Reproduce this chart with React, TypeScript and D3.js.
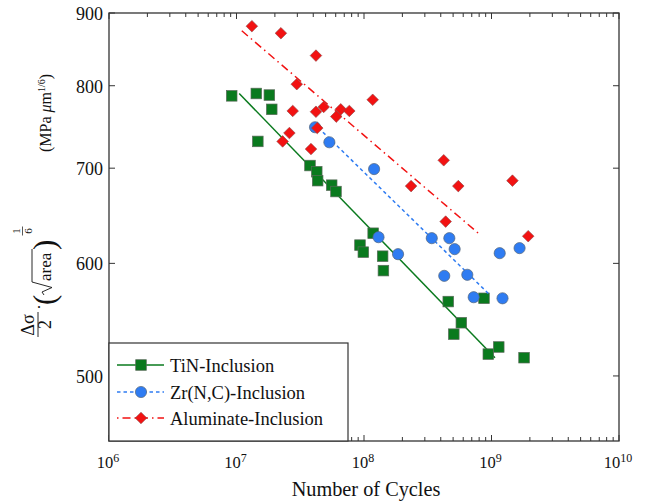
import React from "react";
import * as d3 from "d3";

// ---- data ----
const tinCycles = [9.17e6, 1.43e7, 1.81e7, 1.89e7, 1.47e7, 3.77e7, 4.26e7, 4.33e7, 5.58e7, 6.03e7, 1.18e8, 9.3e7, 9.88e7, 1.4e8, 1.42e8, 4.58e8, 8.73e8, 5.8e8, 5.06e8, 9.44e8, 1.14e9, 1.8e9];
const tinStress = [787, 790, 788, 770, 731, 703, 696, 686, 681, 674, 630, 618, 611, 607, 593, 564, 567, 545, 535, 518, 524, 515];

const zrCycles = [4.13e7, 5.35e7, 1.2e8, 1.3e8, 1.85e8, 3.4e8, 4.67e8, 5.14e8, 4.26e8, 6.46e8, 1.16e9, 1.66e9, 7.25e8, 1.22e9];
const zrStress = [748, 730, 699, 626, 609, 625, 625, 614, 588, 589, 610, 615, 568, 567];

const alCycles = [1.32e7, 2.23e7, 4.2e7, 2.97e7, 1.17e8, 2.76e7, 4.2e7, 4.83e7, 6.57e7, 6.06e7, 7.67e7, 4.3e7, 2.6e7, 2.3e7, 3.84e7, 4.22e8, 2.34e8, 5.49e8, 1.46e9, 4.37e8, 1.94e9];
const alStress = [881, 871, 840, 802, 782, 768, 767, 773, 770, 761, 768, 747, 741, 731, 722, 709, 680, 680, 686, 642, 627];

const tinFitCycles = [1.05e7, 1.065e9];
const tinFitStress = [790, 515];
const zrFitCycles = [4.38e7, 9.73e8];
const zrFitStress = [747.5, 570];
const alFitCycles = [1.1e7, 7.88e8];
const alFitStress = [874.5, 630];

const xMajorTicks = [1e6, 1e7, 1e8, 1e9, 1e10];
const xTickExponents = ["6", "7", "8", "9", "10"];
const yTicks = [500, 600, 700, 800, 900];
const legendLabels = ["TiN-Inclusion", "Zr(N,C)-Inclusion", "Aluminate-Inclusion"];

const FONT = "'Liberation Serif', 'Times New Roman', serif";
const GREEN = "#0a7a1e";
const BLUE = "#2f7cf2";
const RED = "#f21212";
const AXIS = "#333";
const TXT = "#111";

const L = 109, R = 619, T = 13, B = 441;

const x = d3.scaleLog().domain([1e6, 1e10]).range([L, R]);
const y = d3.scaleLog().domain([450, 900]).range([B, T]);

const minorTicks: number[] = [];
for (let e = 6; e < 10; e++) for (let k = 2; k <= 9; k++) minorTicks.push(k * Math.pow(10, e));

const lineGen = d3.line<[number, number]>().x((d) => x(d[0])).y((d) => y(d[1]));
const zip = (a: number[], b: number[]) => a.map((v, i) => [v, b[i]] as [number, number]);

const Square = ({ cx, cy }: { cx: number; cy: number }) => (
  <rect x={cx - 5.3} y={cy - 5.3} width={10.6} height={10.6} fill={GREEN} stroke="#5a6a5a" strokeWidth={0.7} />
);
const Circle = ({ cx, cy }: { cx: number; cy: number }) => (
  <circle cx={cx} cy={cy} r={5.6} fill={BLUE} stroke="#55657a" strokeWidth={0.7} />
);
const Diamond = ({ cx, cy }: { cx: number; cy: number }) => {
  const r = 5.8;
  return <path d={`M${cx},${cy - r}L${cx + r},${cy}L${cx},${cy + r}L${cx - r},${cy}Z`} fill={RED} stroke="#8a4a4a" strokeWidth={0.6} />;
};

export default function App() {
  const tin = zip(tinCycles, tinStress);
  const zr = zip(zrCycles, zrStress);
  const al = zip(alCycles, alStress);
  const legendY = [365, 392, 418];
  return (
    <svg width={646} height={501} style={{ position: "absolute", left: 0, top: 0, background: "#fff" }} fontFamily={FONT}>
      <rect x={0} y={0} width={646} height={501} fill="#fff" />
      {/* ticks */}
      {xMajorTicks.map((t, i) => (
        <g key={"xm" + i}>
          <line x1={x(t)} x2={x(t)} y1={B} y2={B - 6} stroke={AXIS} strokeWidth={1} />
          <line x1={x(t)} x2={x(t)} y1={T} y2={T + 6} stroke={AXIS} strokeWidth={1} />
          <text x={x(t) - 1} y={468} textAnchor="middle" fontSize={16.5} fill={TXT}>
            10<tspan dy={-6} fontSize={12}>{xTickExponents[i]}</tspan>
          </text>
        </g>
      ))}
      {minorTicks.map((t, i) => (
        <g key={"xn" + i}>
          <line x1={x(t)} x2={x(t)} y1={B} y2={B - 4} stroke={AXIS} strokeWidth={1} />
          <line x1={x(t)} x2={x(t)} y1={T} y2={T + 4} stroke={AXIS} strokeWidth={1} />
        </g>
      ))}
      {yTicks.map((t) => (
        <g key={"y" + t}>
          <line x1={L} x2={L + 6} y1={y(t)} y2={y(t)} stroke={AXIS} strokeWidth={1} />
          <line x1={R} x2={R - 6} y1={y(t)} y2={y(t)} stroke={AXIS} strokeWidth={1} />
          <text x={103} y={y(t)} dy="0.38em" textAnchor="end" fontSize={18} fill={TXT}>{t}</text>
        </g>
      ))}

      {/* series */}
      <path d={lineGen(zip(tinFitCycles, tinFitStress)) || ""} stroke={GREEN} strokeWidth={1.5} fill="none" />
      {tin.map((d, i) => <Square key={"t" + i} cx={x(d[0])} cy={y(d[1])} />)}
      <path d={lineGen(zip(zrFitCycles, zrFitStress)) || ""} stroke={BLUE} strokeWidth={1.5} fill="none" strokeDasharray="3.5,3" />
      {zr.map((d, i) => <Circle key={"z" + i} cx={x(d[0])} cy={y(d[1])} />)}
      <path d={lineGen(zip(alFitCycles, alFitStress)) || ""} stroke={RED} strokeWidth={1.5} fill="none" strokeDasharray="8,4,1.5,4" />
      {al.map((d, i) => <Diamond key={"a" + i} cx={x(d[0])} cy={y(d[1])} />)}

      {/* frame */}
      <rect x={L} y={T} width={R - L} height={B - T} fill="none" stroke={AXIS} strokeWidth={1.3} />

      {/* legend */}
      <rect x={L} y={343} width={239} height={B - 343} fill="#fff" stroke={AXIS} strokeWidth={1.2} />
      <line x1={117} x2={164} y1={legendY[0]} y2={legendY[0]} stroke={GREEN} strokeWidth={1.5} />
      <Square cx={141} cy={legendY[0]} />
      <line x1={117} x2={164} y1={legendY[1]} y2={legendY[1]} stroke={BLUE} strokeWidth={1.5} strokeDasharray="3.5,3" />
      <Circle cx={141} cy={legendY[1]} />
      <line x1={117} x2={164} y1={legendY[2]} y2={legendY[2]} stroke={RED} strokeWidth={1.5} strokeDasharray="1.5,4,8,4" />
      <Diamond cx={141} cy={legendY[2]} />
      {legendLabels.map((s, i) => (
        <text key={s} x={170} y={legendY[i] + 6.5} fontSize={18.5} fill={TXT}>{s}</text>
      ))}

      {/* x label */}
      <text x={366} y={496} textAnchor="middle" fontSize={20.3} fill={TXT}>Number of Cycles</text>

      {/* y label */}
      <g transform="translate(51,337) rotate(-90)" fill={TXT} fontSize={17}>
        <text x={12} y={-17} textAnchor="middle" fontSize={18}>Δσ</text>
        <line x1={0} x2={25} y1={-13} y2={-13} stroke={TXT} strokeWidth={0.9} />
        <text x={12.5} y={0} textAnchor="middle" fontSize={18}>2</text>
        <text x={30} y={-6} textAnchor="middle">·</text>
        <text x={32} y={4} fontSize={31}>(</text>
        <path d="M42,-7 L45,-9 L49.5,1 L55,-19 L88,-19" fill="none" stroke={TXT} strokeWidth={0.9} />
        <text x={56} y={0}>area</text>
        <text x={87} y={4} fontSize={31}>)</text>
        <text x={106} y={-31} fontSize={11} textAnchor="middle">1</text>
        <line x1={101.5} x2={110.5} y1={-28.5} y2={-28.5} stroke={TXT} strokeWidth={0.7} />
        <text x={106} y={-19} fontSize={11} textAnchor="middle">6</text>
        <text x={185} y={0} fontSize={16}>
          (MPa <tspan fontStyle="italic">μ</tspan>m<tspan dy={-6} fontSize={10}>1/6</tspan><tspan dy={6}>)</tspan>
        </text>
      </g>
    </svg>
  );
}
